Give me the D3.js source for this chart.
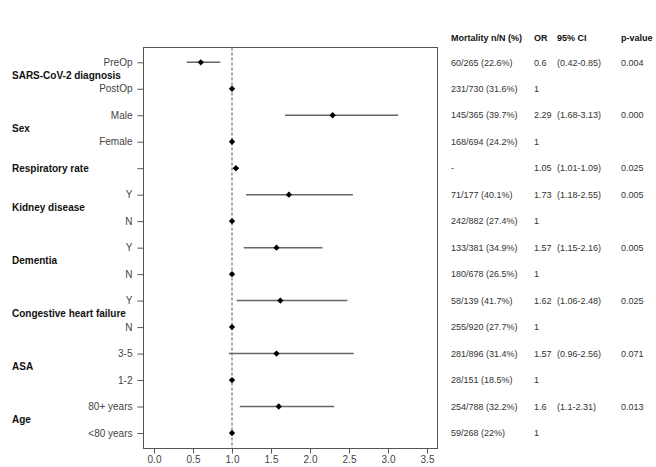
<!DOCTYPE html>
<html><head><meta charset="utf-8">
<script src="https://cdn.jsdelivr.net/npm/d3@7"></script>
<style>body{margin:0;background:#fff}svg{display:block;font-family:"Liberation Sans",Arial,sans-serif}</style>
</head><body>
<script>
const rowLabels = ["PreOp","PostOp","Male","Female","","Y","N","Y","N","Y","N","3-5","1-2","80+ years","<80 years"];
const orValues = [0.6,1,2.29,1,1.05,1.73,1,1.57,1,1.62,1,1.57,1,1.6,1];
const ciLow = [0.42,null,1.68,null,1.01,1.18,null,1.15,null,1.06,null,0.96,null,1.1,null];
const ciHigh = [0.85,null,3.13,null,1.09,2.55,null,2.16,null,2.48,null,2.56,null,2.31,null];
const mortality = ["60/265 (22.6%)","231/730 (31.6%)","145/365 (39.7%)","168/694 (24.2%)","-","71/177 (40.1%)","242/882 (27.4%)","133/381 (34.9%)","180/678 (26.5%)","58/139 (41.7%)","255/920 (27.7%)","281/896 (31.4%)","28/151 (18.5%)","254/788 (32.2%)","59/268 (22%)"];
const orText = ["0.6","1","2.29","1","1.05","1.73","1","1.57","1","1.62","1","1.57","1","1.6","1"];
const ciText = ["(0.42-0.85)","","(1.68-3.13)","","(1.01-1.09)","(1.18-2.55)","","(1.15-2.16)","","(1.06-2.48)","","(0.96-2.56)","","(1.1-2.31)",""];
const pText = ["0.004","","0.000","","0.025","0.005","","0.005","","0.025","","0.071","","0.013",""];
const groupNames = ["SARS-CoV-2 diagnosis","Sex","Respiratory rate","Kidney disease","Dementia","Congestive heart failure","ASA","Age"];
const groupFirst = [0,2,4,5,7,9,11,13];
const groupLast = [1,3,4,6,8,10,12,14];
const xTicks = [0,0.5,1,1.5,2,2.5,3,3.5];
const headers = ["Mortality n/N (%)","OR","95% CI","p-value"];

const W=656,H=467;
const svg=d3.select("body").append("svg").attr("width",W).attr("height",H);
const box={l:143.5,t:47.5,r:437.5,b:448.5};
const x=d3.scaleLinear().domain([0,3.5]).range([154,427]);
const idx=d3.range(rowLabels.length);
const y=d3.scalePoint().domain(idx).range([62.3,433]);

svg.append("rect").attr("x",box.l).attr("y",box.t).attr("width",box.r-box.l).attr("height",box.b-box.t)
  .attr("fill","none").attr("stroke","#555").attr("stroke-width",1);

svg.append("line").attr("x1",x(1)).attr("x2",x(1)).attr("y1",box.t).attr("y2",box.b)
  .attr("stroke","#555").attr("stroke-dasharray","3,2").attr("stroke-width",1);

const ax=svg.append("g").attr("transform",`translate(${box.l},0)`)
  .call(d3.axisLeft(y).tickSize(6).tickPadding(5).tickFormat(i=>rowLabels[i]));
ax.select(".domain").remove();
ax.selectAll("line").attr("stroke","#555");
ax.selectAll("text").attr("fill","#444").style("font-size","10px").style("font-family","Liberation Sans, Arial, sans-serif");

const bx=svg.append("g").attr("transform",`translate(0,${box.b})`)
  .call(d3.axisBottom(x).tickValues(xTicks).tickSize(5).tickPadding(2.5).tickFormat(d3.format(".1f")));
bx.select(".domain").remove();
bx.selectAll("line").attr("stroke","#555");
bx.selectAll("text").attr("fill","#444").style("font-size","10px").style("font-family","Liberation Sans, Arial, sans-serif");

svg.append("g").selectAll("line").data(idx.filter(i=>ciLow[i]!=null)).join("line")
  .attr("x1",i=>x(ciLow[i])).attr("x2",i=>x(ciHigh[i]))
  .attr("y1",i=>y(i)).attr("y2",i=>y(i))
  .attr("stroke","#666").attr("stroke-width",1.5);

const diamond=d3.symbol(d3.symbolSquare,20);
svg.append("g").selectAll("path").data(idx).join("path")
  .attr("d",diamond)
  .attr("transform",i=>`translate(${x(orValues[i])},${y(i)}) rotate(45)`)
  .attr("fill","#000");

svg.append("g").selectAll("text").data(groupNames).join("text")
  .attr("x",12).attr("y",(d,k)=>(y(groupFirst[k])+y(groupLast[k]))/2+3.5)
  .attr("font-size","10px").attr("font-weight","bold").attr("fill","#111").text(d=>d);

const colX=[451,534,557,621];
svg.append("g").selectAll("text").data(headers).join("text")
  .attr("x",(d,k)=>colX[k]).attr("y",41).attr("font-size","9px").attr("font-weight","bold")
  .attr("fill","#111").text(d=>d);
const cols=[mortality,orText,ciText,pText];
cols.forEach((arr,k)=>{
  svg.append("g").selectAll("text").data(idx).join("text")
    .attr("x",colX[k]).attr("y",i=>y(i)+3.2).attr("font-size","9px").attr("fill","#333")
    .text(i=>arr[i]);
});
</script>
</body></html>
